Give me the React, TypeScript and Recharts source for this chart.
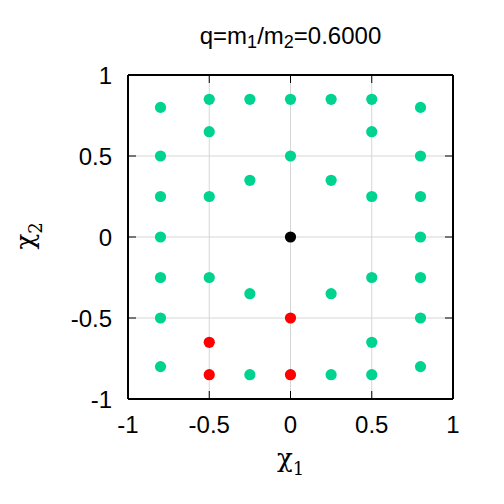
import React from 'react';
import { ScatterChart, Scatter, XAxis, YAxis, CartesianGrid } from 'recharts';

const axisTicks = [-1, -0.5, 0, 0.5, 1];

const greenX = [-0.8, -0.5, -0.25, 0, 0.25, 0.5, 0.8, -0.5, 0.5, -0.8, 0, 0.8, -0.25, 0.25, -0.8, -0.5, 0.5, 0.8, -0.8, 0.8, -0.8, -0.5, 0.5, 0.8, -0.25, 0.25, -0.8, 0.8, 0.5, -0.8, 0.8, -0.25, 0.25, 0.5];
const greenY = [0.8, 0.85, 0.85, 0.85, 0.85, 0.85, 0.8, 0.65, 0.65, 0.5, 0.5, 0.5, 0.35, 0.35, 0.25, 0.25, 0.25, 0.25, 0, 0, -0.25, -0.25, -0.25, -0.25, -0.35, -0.35, -0.5, -0.5, -0.65, -0.8, -0.8, -0.85, -0.85, -0.85];
const redX = [0, -0.5, -0.5, 0];
const redY = [-0.5, -0.65, -0.85, -0.85];
const blackX = [0];
const blackY = [0];

const toPoints = (xs: number[], ys: number[]) => xs.map((x, i) => ({ x, y: ys[i] }));
const greenData = toPoints(greenX, greenY);
const redData = toPoints(redX, redY);
const blackData = toPoints(blackX, blackY);

const FONT = '"Liberation Sans", Arial, sans-serif';
const SERIF = '"DejaVu Serif", "Liberation Serif", serif';
const TICK_LEN = 8;

const dot = (color: string) => (props: any) => (
  <circle cx={props.cx} cy={props.cy} r={5.6} fill={color} />
);

const BottomTick = (props: any) => {
  const { x, y, payload } = props;
  return (
    <g>
      <line x1={x} x2={x} y1={y} y2={y - TICK_LEN} stroke="#000" strokeWidth={1} />
      <text x={x} y={y + 34} textAnchor="middle" fontFamily={FONT} fontSize={24} fill="#000">
        {String(payload.value)}
      </text>
    </g>
  );
};
const TopTick = (props: any) => {
  const { x, y } = props;
  return <line x1={x} x2={x} y1={y} y2={y + TICK_LEN} stroke="#000" strokeWidth={1} />;
};
const LeftTick = (props: any) => {
  const { x, y, payload } = props;
  return (
    <g>
      <line x1={x} x2={x + TICK_LEN} y1={y} y2={y} stroke="#000" strokeWidth={1} />
      <text x={x - 16} y={y + 8.5} textAnchor="end" fontFamily={FONT} fontSize={24} fill="#000">
        {String(payload.value)}
      </text>
    </g>
  );
};
const RightTick = (props: any) => {
  const { x, y } = props;
  return <line x1={x} x2={x - TICK_LEN} y1={y} y2={y} stroke="#000" strokeWidth={1} />;
};

const axisLine = { stroke: '#000', strokeWidth: 2 };

export default function App() {
  return (
    <div style={{ position: 'absolute', left: 0, top: 0, width: 504, height: 504, background: '#fff' }}>
      <ScatterChart width={504} height={504} margin={{ top: 74, right: 50, bottom: 65, left: 88 }}>
        <CartesianGrid stroke="#d6d6d6" strokeWidth={1} />
        <XAxis xAxisId={0} type="number" dataKey="x" domain={[-1, 1]} ticks={axisTicks} orientation="bottom" height={40}
          tickSize={0} tickMargin={0} axisLine={axisLine} tickLine={false} tick={<BottomTick />} allowDataOverflow interval={0} />
        <XAxis xAxisId="top" type="number" dataKey="x" domain={[-1, 1]} ticks={axisTicks} orientation="top" height={1}
          tickSize={0} tickMargin={0} axisLine={axisLine} tickLine={false} tick={<TopTick />} allowDataOverflow interval={0} />
        <YAxis yAxisId={0} type="number" dataKey="y" domain={[-1, 1]} ticks={axisTicks} orientation="left" width={40}
          tickSize={0} tickMargin={0} axisLine={axisLine} tickLine={false} tick={<LeftTick />} allowDataOverflow interval={0} />
        <YAxis yAxisId="right" type="number" dataKey="y" domain={[-1, 1]} ticks={axisTicks} orientation="right" width={1}
          tickSize={0} tickMargin={0} axisLine={axisLine} tickLine={false} tick={<RightTick />} allowDataOverflow interval={0} />
        <Scatter data={greenData} xAxisId={0} yAxisId={0} shape={dot('#00d38f')} isAnimationActive={false} />
        <Scatter data={redData} xAxisId={0} yAxisId={0} shape={dot('#ff0000')} isAnimationActive={false} />
        <Scatter data={blackData} xAxisId={0} yAxisId={0} shape={dot('#000000')} isAnimationActive={false} />
      </ScatterChart>
      <svg width={504} height={504} style={{ position: 'absolute', left: 0, top: 0, pointerEvents: 'none' }}>
        <text x={290.5} y={43.5} textAnchor="middle" fontFamily={FONT} fontSize={24} fill="#000">
          q=m<tspan fontSize={18} dy={4}>1</tspan><tspan dy={-4}>/m</tspan><tspan fontSize={18} dy={4}>2</tspan><tspan dy={-4}>=0.6000</tspan>
        </text>
        <text x={290.5} y={467} textAnchor="middle" fontFamily={SERIF} fontSize={26} fill="#000">
          χ<tspan fontSize={18} dy={8}>1</tspan>
        </text>
        <text x={0} y={0} transform="translate(34 236) rotate(-90)" textAnchor="middle" fontFamily={SERIF} fontSize={26} fill="#000">
          χ<tspan fontSize={18} dy={8}>2</tspan>
        </text>
      </svg>
    </div>
  );
}
